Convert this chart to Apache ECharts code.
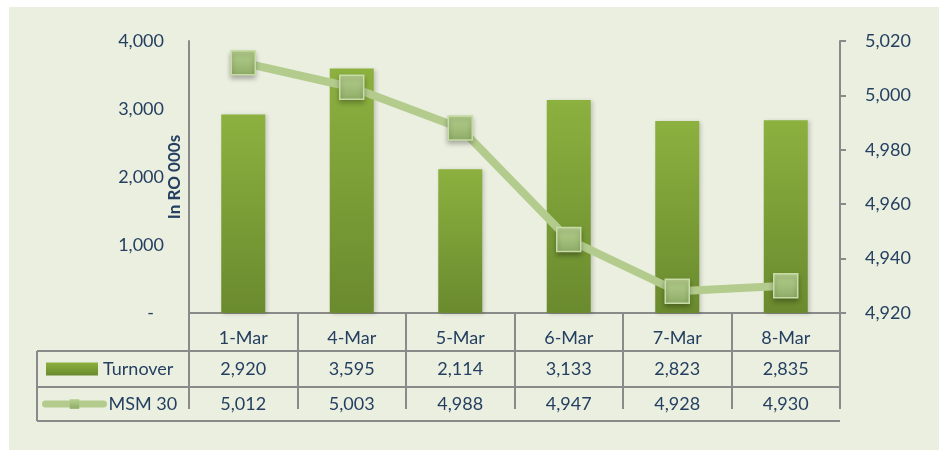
<!DOCTYPE html>
<html>
<head>
<meta charset="utf-8">
<script src="https://cdn.jsdelivr.net/npm/echarts@6/dist/echarts.min.js"></script>
<style>
  html, body { margin: 0; padding: 0; background: #fff; }
  #main { width: 939px; height: 450px; }
</style>
</head>
<body>
<div id="main"></div>
<script>
// data
const days = ['1-Mar', '4-Mar', '5-Mar', '6-Mar', '7-Mar', '8-Mar'];
const turnover = [2920, 3595, 2114, 3133, 2823, 2835];
const msm30 = [5012, 5003, 4988, 4947, 4928, 4930];
const leftTicks = [0, 1000, 2000, 3000, 4000];
const rightTicks = [4920, 4940, 4960, 4980, 5000, 5020];

const textColor = '#243F60';
const gridColor = '#8A8A8A';
const font = 'Lato';
const fs = 18;

const fmt = v => v.toLocaleString('en-US');

// plot box in pixels
const plotLeft = 189, plotRight = 840, plotTop = 41, plotBottom = 313;
const tableTop = 325, row1 = 351, row2 = 387, tableBottom = 421, tableLeft = 37;

let myChart = echarts.init(document.getElementById('main'));

const option = {
  backgroundColor: '#fff',
  animation: false,
  textStyle: { fontFamily: font },
  grid: {
    left: plotLeft,
    right: 939 - plotRight,
    top: plotTop,
    bottom: 450 - plotBottom
  },
  legend: [
    {
      data: ['Turnover'],
      left: 46, top: row1 + 9,
      padding: 0,
      itemWidth: 52, itemHeight: 13, itemGap: 0,
      textStyle: { color: textColor, fontSize: fs, fontFamily: font },
      icon: 'rect',
      selectedMode: false
    },
    {
      data: ['MSM 30'],
      left: 42, top: row2 + 8,
      padding: 0,
      itemWidth: 58, itemHeight: 12,
      lineStyle: { width: 7, cap: 'round' },
      itemStyle: { borderWidth: 0 },
      textStyle: { color: textColor, fontSize: fs, fontFamily: font },
      selectedMode: false
    }
  ],
  xAxis: {
    type: 'category',
    data: days,
    offset: tableTop - plotBottom,
    axisLine: { show: true, lineStyle: { color: gridColor, width: 2 } },
    axisTick: { show: true, length: tableBottom - tableTop, interval: 0, lineStyle: { color: gridColor, width: 2 } },
    axisLabel: {
      interval: 0,
      margin: 0,
      verticalAlign: 'top',
      formatter: function (val, i) {
        return '{h|' + val + '}\n{a|' + fmt(turnover[i]) + '}\n{b|' + fmt(msm30[i]) + '}';
      },
      rich: {
        h: { fontSize: fs, color: textColor, fontFamily: font, lineHeight: row1 - tableTop },
        a: { fontSize: fs, color: textColor, fontFamily: font, lineHeight: row2 - row1 },
        b: { fontSize: fs, color: textColor, fontFamily: font, lineHeight: tableBottom - row2 }
      }
    }
  },
  yAxis: [
    {
      type: 'value',
      min: leftTicks[0],
      max: leftTicks[leftTicks.length - 1],
      interval: 1000,
      name: 'In RO 000s',
      nameLocation: 'middle',
      nameGap: 6,
      nameMoveOverlap: false,
      nameTextStyle: { color: textColor, fontSize: 17, fontWeight: 'bold', fontFamily: font },
      axisLine: { show: true, lineStyle: { color: gridColor, width: 2 } },
      axisTick: { show: false },
      splitLine: { show: false },
      axisLabel: {
        margin: 25,
        color: textColor,
        fontSize: fs,
        fontFamily: font,
        formatter: v => v === 0 ? '{z|-}' : fmt(v),
        rich: { z: { fontSize: fs, color: textColor, fontFamily: font, padding: [0, 10, 0, 0] } }
      }
    },
    {
      type: 'value',
      min: rightTicks[0],
      max: rightTicks[rightTicks.length - 1],
      interval: 20,
      position: 'right',
      axisLine: { show: true, lineStyle: { color: gridColor, width: 2 } },
      axisTick: { show: true, length: 6, lineStyle: { color: gridColor, width: 2 } },
      splitLine: { show: false },
      axisLabel: { margin: 25, color: textColor, fontSize: fs, fontFamily: font, formatter: v => fmt(v) }
    }
  ],
  series: [
    {
      name: 'Turnover',
      type: 'bar',
      data: turnover,
      barWidth: 44,
      itemStyle: {
        color: new echarts.graphic.LinearGradient(0, 0, 0, 1, [
          { offset: 0, color: '#8CB13F' },
          { offset: 1, color: '#6A8A2E' }
        ]),
        shadowBlur: 4,
        shadowOffsetX: 2,
        shadowOffsetY: 1,
        shadowColor: 'rgba(0,0,0,0.18)'
      }
    },
    {
      name: 'MSM 30',
      type: 'line',
      yAxisIndex: 1,
      data: msm30,
      symbol: 'rect',
      symbolSize: 24,
      lineStyle: { color: '#B3CC8D', width: 8 },
      itemStyle: {
        color: new echarts.graphic.LinearGradient(0, 0, 0, 1, [
          { offset: 0, color: '#B7D18F' },
          { offset: 1, color: '#8EAC67' }
        ]),
        borderColor: '#C8DCA8',
        borderWidth: 1.5,
        shadowBlur: 5,
        shadowOffsetY: 3,
        shadowColor: 'rgba(0,0,0,0.3)'
      },
      z: 3
    }
  ],
  graphic: [
    { type: 'rect', z: -10, shape: { x: 9, y: 7, width: 930, height: 443 }, style: { fill: '#EBEFE0' }, silent: true },
    { type: 'line', z: 10, shape: { x1: tableLeft, y1: row1, x2: plotRight, y2: row1 }, style: { stroke: gridColor, lineWidth: 2 } },
    { type: 'line', z: 10, shape: { x1: tableLeft, y1: row2, x2: plotRight, y2: row2 }, style: { stroke: gridColor, lineWidth: 2 } },
    { type: 'line', z: 10, shape: { x1: tableLeft, y1: tableBottom, x2: plotRight, y2: tableBottom }, style: { stroke: gridColor, lineWidth: 2 } },
    { type: 'line', z: 10, shape: { x1: tableLeft, y1: row1, x2: tableLeft, y2: tableBottom }, style: { stroke: gridColor, lineWidth: 2 } }
  ]
};

myChart.setOption(option);
</script>
</body>
</html>
